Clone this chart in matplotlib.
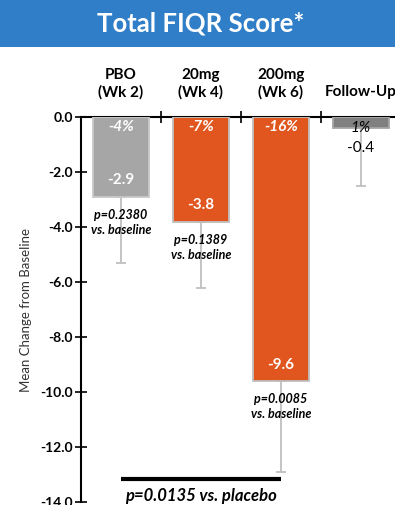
import numpy as np
import matplotlib.pyplot as plt
from matplotlib.patches import Rectangle

plt.rcParams['font.family'] = ['Lato', 'DejaVu Sans']

# Data
groups = ["PBO\n(Wk 2)", "20mg\n(Wk 4)", "200mg\n(Wk 6)", "Follow-Up"]
mean_change = [-2.9, -3.8, -9.6, -0.4]
err_low = [2.4, 2.4, 3.3, 2.1]
pct_change = ["-4%", "-7%", "-16%", "1%"]
p_baseline = ["p=0.2380", "p=0.1389", "p=0.0085", None]
bar_colors = ["#A6A6A6", "#E0561E", "#E0561E", "#808080"]
edge_colors = ["#C9C9C9", "#BFBFBF", "#BFBFBF", "#A6A6A6"]
p_placebo = "p=0.0135 vs. placebo"

fig = plt.figure(figsize=(3.95, 5.05), dpi=100)

# blue title banner
fig.patches.append(Rectangle((0, 0.907), 1, 0.093, transform=fig.transFigure,
                             facecolor="#2F7EC7", edgecolor="none", zorder=0))
fig.text(0.507, 0.953, "Total FIQR Score*", color="white", fontsize=18.5,
         fontweight="bold", ha="center", va="center")

ax = fig.add_axes([0.205, 0.006, 0.81, 0.762])
x = np.arange(len(groups))

ax.bar(x, mean_change, width=0.69, color=bar_colors, edgecolor=edge_colors,
       linewidth=1.3, zorder=3)
ax.errorbar(x, mean_change, yerr=[err_low, np.zeros(len(x))], fmt="none",
            ecolor="#BFBFBF", elinewidth=1.3, capsize=3.5, capthick=1.3, zorder=2)

# labels inside / near bars
for i, v in enumerate(mean_change):
    if v < -1.5:
        ax.text(i, -0.12, pct_change[i], color="white", fontsize=11,
                fontweight="bold", style="italic", ha="center", va="top", zorder=4)
        ax.text(i, v + 0.6, f"{v:.1f}", color="white", fontsize=11,
                fontweight="bold", ha="center", va="center", zorder=4)
    else:
        ax.text(i, v, pct_change[i], color="black", fontsize=11,
                style="italic", ha="center", va="center", zorder=4)
        ax.text(i, v - 0.72, f"{v:.1f}", color="black", fontsize=11,
                ha="center", va="center", zorder=4)
    if p_baseline[i]:
        ax.text(i, v - 0.45, p_baseline[i] + "\nvs. baseline", fontsize=9,
                fontweight="bold", style="italic", ha="center", va="top",
                linespacing=1.3, zorder=4)

# bracket vs placebo
ax.plot([x[0], x[2]], [-13.15, -13.15], color="black", linewidth=3,
        solid_capstyle="butt", clip_on=False)
ax.text((x[0] + x[2]) / 2, -13.8, p_placebo, fontsize=12, fontweight="bold",
        style="italic", ha="center", va="center")

ax.set_xlim(-0.5, len(groups) - 0.5)
ax.set_ylim(-14, 0)
ax.set_yticks(np.arange(-14, 0.1, 2))
ax.set_yticklabels([f"{t:.1f}" for t in np.arange(-14, 0.1, 2)],
                   fontsize=10, fontweight="bold")
ax.tick_params(axis="y", direction="inout", length=8, width=1.2, pad=2)

ax.xaxis.tick_top()
ax.set_xticks(x[:-1] + 0.5)
ax.set_xticklabels([])
ax.set_xticks(x, minor=True)
ax.set_xticklabels(groups, minor=True, fontsize=11, fontweight="bold")
ax.tick_params(axis="x", which="major", direction="inout", length=9, width=1.2)
ax.tick_params(axis="x", which="minor", length=0, pad=13)

for s in ["bottom", "right"]:
    ax.spines[s].set_visible(False)
ax.spines["left"].set_linewidth(1.5)
ax.spines["top"].set_linewidth(1.5)
ax.set_ylabel("Mean Change from Baseline", fontsize=9.5, color="#333333",
              labelpad=6)
ax.patch.set_alpha(0)

fig.savefig("out.png", dpi=100)
